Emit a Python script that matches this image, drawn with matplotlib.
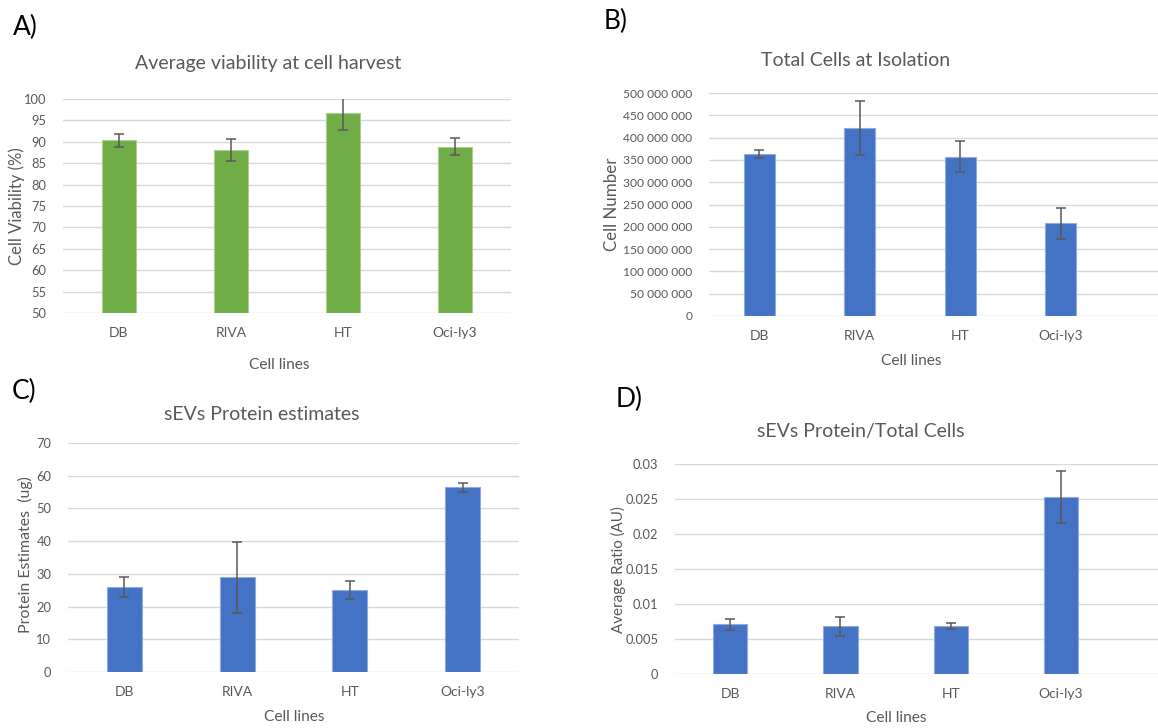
import numpy as np
import matplotlib.pyplot as plt
from matplotlib.ticker import FuncFormatter, MultipleLocator

plt.rcParams['font.family'] = ['Lato', 'DejaVu Sans']

# --- data ---
cell_lines = ['DB', 'RIVA', 'HT', 'Oci-ly3']

viability = [90.4, 88.1, 96.7, 88.9]
viability_err = [1.5, 2.6, 4.0, 2.1]

total_cells = [363e6, 421e6, 357e6, 208e6]
total_cells_err = [9.5e6, 60e6, 35e6, 35e6]

protein = [25.9, 28.9, 25.1, 56.4]
protein_err = [3.1, 10.9, 2.75, 1.4]

ratio = [0.0071, 0.0068, 0.0069, 0.0253]
ratio_err = [0.00075, 0.0014, 0.00045, 0.0037]

W, H = 1158, 728
GREEN = '#70AD47'
BLUE = '#4472C4'
TXT = '#595959'
GRID = '#D9D9D9'

fig = plt.figure(figsize=(W / 100, H / 100), dpi=100)


def add_ax(l, t, r, b):
    return fig.add_axes([l / W, 1 - b / H, (r - l) / W, (b - t) / H])


def fx(x):
    return x / W


def fy(y):
    return 1 - y / H


def bar_panel(ax, vals, errs, color, ylim, step, xlim, fmt=None, ysize=9.3):
    x = np.arange(len(cell_lines))
    ax.bar(x, np.array(vals) - ylim[0], bottom=ylim[0], width=0.31, color=color,
           edgecolor='#8FAADC' if color == BLUE else '#A9D18E', linewidth=0.8, zorder=2)
    ax.errorbar(x, vals, yerr=errs, fmt='none', ecolor='#595959', elinewidth=1.1,
                capsize=3.5, capthick=1.1, zorder=3)
    ax.set_xlim(*xlim)
    ax.set_ylim(*ylim)
    ax.yaxis.set_major_locator(MultipleLocator(step))
    if fmt is not None:
        ax.yaxis.set_major_formatter(FuncFormatter(fmt))
    ax.grid(axis='y', color=GRID, linewidth=1.0, zorder=0)
    ax.set_axisbelow(True)
    for s in ax.spines.values():
        s.set_visible(False)
    ax.tick_params(length=0, colors=TXT, pad=12)
    ax.tick_params(axis='y', labelsize=ysize)
    ax.tick_params(axis='x', pad=10, labelsize=10)
    ax.set_xticks(x)
    ax.set_xticklabels(cell_lines)


def big_num(v, _):
    return f'{int(round(v)):,}'.replace(',', ' ')


def ratio_fmt(v, _):
    if abs(v) < 1e-12:
        return '0'
    return f'{v:g}'


# A) viability
ax_a = add_ax(63, 99, 511, 313)
bar_panel(ax_a, viability, viability_err, GREEN, (50, 100), 5, (-0.5, 3.5))

# B) total cells
ax_b = add_ax(709, 93, 1158, 316)
bar_panel(ax_b, total_cells, total_cells_err, BLUE, (0, 500e6), 50e6, (-0.5, 3.97), big_num,
          ysize=8.7)

# C) protein
ax_c = add_ax(68, 443, 519, 672)
bar_panel(ax_c, protein, protein_err, BLUE, (0, 70), 10, (-0.5, 3.5))

# D) ratio
ax_d = add_ax(675, 464, 1158, 674)
bar_panel(ax_d, ratio, ratio_err, BLUE, (0, 0.03), 0.005, (-0.5, 3.88), ratio_fmt)

# titles
titles = [(268, 63, 'Average viability at cell harvest'), (856, 60, 'Total Cells at Isolation'),
          (262, 415, 'sEVs Protein estimates'), (861, 432, 'sEVs Protein/Total Cells')]
for xp, yp, txt in titles:
    fig.text(fx(xp), fy(yp), txt, ha='center', va='center', fontsize=14, color=TXT)

# x axis labels
for xp, yp in [(279, 365), (911, 361), (294, 717), (896, 718)]:
    fig.text(fx(xp), fy(yp), 'Cell lines', ha='center', va='center', fontsize=11.2, color=TXT)

# y axis labels
ylabels = [(17, 206, 'Cell Viability (%)', 12), (612, 204, 'Cell Number', 12.2),
           (25, 555, 'Protein Estimates  (ug)', 11.4), (618, 570, 'Average Ratio (AU)', 10.9)]
for xp, yp, txt, fs in ylabels:
    fig.text(fx(xp), fy(yp), txt, ha='center', va='center', rotation=90,
             fontsize=fs, color=TXT)

# panel letters
for xp, yp, txt in [(13, 27, 'A)'), (604, 21, 'B)'), (12, 391, 'C)'), (616, 399, 'D)')]:
    fig.text(fx(xp), fy(yp), txt, ha='left', va='center', fontsize=19, color='black')

fig.savefig('out.png', dpi=100)
